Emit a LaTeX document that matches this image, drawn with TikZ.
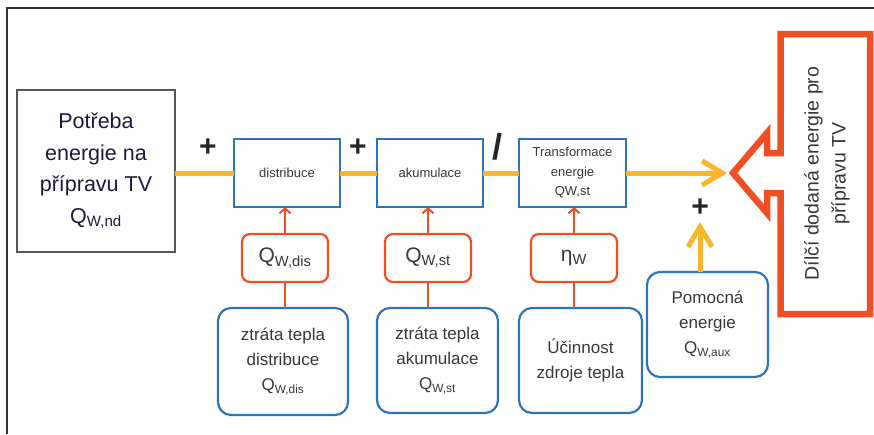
\documentclass[tikz,border=0pt]{standalone}
\usepackage{fontspec}
\setmainfont{Liberation Sans}
\usetikzlibrary{arrows.meta}
\definecolor{cblue}{HTML}{2E75B6}
\definecolor{cred}{HTML}{F04E23}
\definecolor{cyel}{HTML}{FBB52B}
\definecolor{cgray}{HTML}{595959}
\definecolor{ctext}{HTML}{383838}
\definecolor{cnavy}{HTML}{1C1C3A}
\newcommand{\fs}[2]{\fontsize{#1}{#2}\selectfont}
\tikzset{
  graybox/.style={draw=cgray, line width=2.4pt, inner sep=0pt, outer sep=0pt, align=center, text=cnavy, font=\fs{21.5}{31.5}},
  blockbox/.style={draw=cblue, line width=2.2pt, inner sep=0pt, outer sep=0pt, align=center, text=ctext, minimum height=68pt, font=\fs{13}{19.5}},
  parbox/.style={draw=cred, line width=2.2pt, rounded corners=8pt, inner sep=0pt, outer sep=0pt, align=center, text=ctext, minimum width=86pt, minimum height=48pt, font=\fs{21}{24}},
  infobox/.style={draw=cblue, line width=2.2pt, rounded corners=13pt, inner sep=0pt, outer sep=0pt, align=center, text=ctext, font=\fs{17}{25}},
  flow/.style={draw=cyel, line width=5pt},
  flowarrow/.style={flow, -{Straight Barb[length=20pt,width=24pt]}},
  redline/.style={draw=cred, line width=2pt},
  redarrow/.style={redline, -{Straight Barb[length=5pt,width=11pt]}},
  opsign/.style={inner sep=0pt, text=black!85, font=\bfseries\fs{30}{30}},
}
\begin{document}
\begin{tikzpicture}[x=1pt,y=-1pt]
\useasboundingbox (0,0) rectangle (874,434);
\fill[white] (0,0) rectangle (874,434);
\draw[line width=1.3pt, black!80] (7,434) -- (7,8) -- (874,8);

% main row
\node[graybox, minimum width=158pt, minimum height=162pt] (nd) at (96,171)
  {Potřeba\\energie na\\přípravu TV\\Q\textsubscript{W,nd}};
\node[blockbox, minimum width=106pt] (dist) at (287,173) {distribuce};
\node[blockbox, minimum width=106pt] (akum) at (430,173) {akumulace};
\node[blockbox, minimum width=107pt] (trans) at (572.5,173) {Transformace\\energie\\QW,st};

% parameter boxes
\node[parbox] (qdis) at (285,258) {Q\textsubscript{W,dis}};
\node[parbox] (qst) at (428,258) {Q\textsubscript{W,st}};
\node[parbox] (eta) at (574,258) {η\textsubscript{W}};

% info boxes
\node[infobox, minimum width=130pt, minimum height=107pt] (b1) at (283,361.5)
  {ztráta tepla\\distribuce\\Q\textsubscript{W,dis}};
\node[infobox, minimum width=121pt, minimum height=105pt] (b2) at (437.5,360.5)
  {ztráta tepla\\akumulace\\Q\textsubscript{W,st}};
\node[infobox, minimum width=123pt, minimum height=105pt] (b3) at (580.5,360.5)
  {Účinnost\\zdroje tepla};
\node[infobox, minimum width=121pt, minimum height=105pt] (pom) at (707.5,324.5)
  {Pomocná\\energie\\Q\textsubscript{W,aux}};

% result shape
\draw[draw=cred, line width=6.5pt, miter limit=20]
  (780.5,34) -- (780.5,153) -- (767,153) -- (767,133) -- (733,173)
  -- (767,213) -- (767,193) -- (780.5,193) -- (780.5,314)
  -- (870,314) -- (870,34) -- cycle;
\node[rotate=90, align=center, text=ctext, font=\fs{19.5}{27}, inner sep=0pt] (res) at (827,173.5)
  {Dílčí dodaná energie pro\\přípravu TV};
\coordinate (tip) at (727,173);
\coordinate (auxtip) at (700,222);

% yellow flow
\draw[flow] (dist.west -| nd.east) -- (dist.west);
\draw[flow] (dist.east) -- (akum.west);
\draw[flow] (akum.east) -- (trans.west);
\draw[flowarrow] (trans.east) -- (tip);
\draw[flowarrow] (auxtip |- pom.north) -- (auxtip);

% red connectors
\draw[redarrow] (qdis.north) -- (qdis.north |- dist.south);
\draw[redarrow] (qst.north) -- (qst.north |- akum.south);
\draw[redarrow] (eta.north) -- (eta.north |- trans.south);
\draw[redline] (qdis.south) -- (qdis.south |- b1.north);
\draw[redline] (qst.south) -- (qst.south |- b2.north);
\draw[redline] (eta.south) -- (eta.south |- b3.north);

% operators
\node[opsign] (p1) at (208,148) {+};
\node[opsign] (p2) at (358,148) {+};
\node[opsign, font=\bfseries\fs{36}{36}] (dv) at (497,147) {/};
\node[opsign] (p3) at (700,208) {+};
\end{tikzpicture}
\end{document}
